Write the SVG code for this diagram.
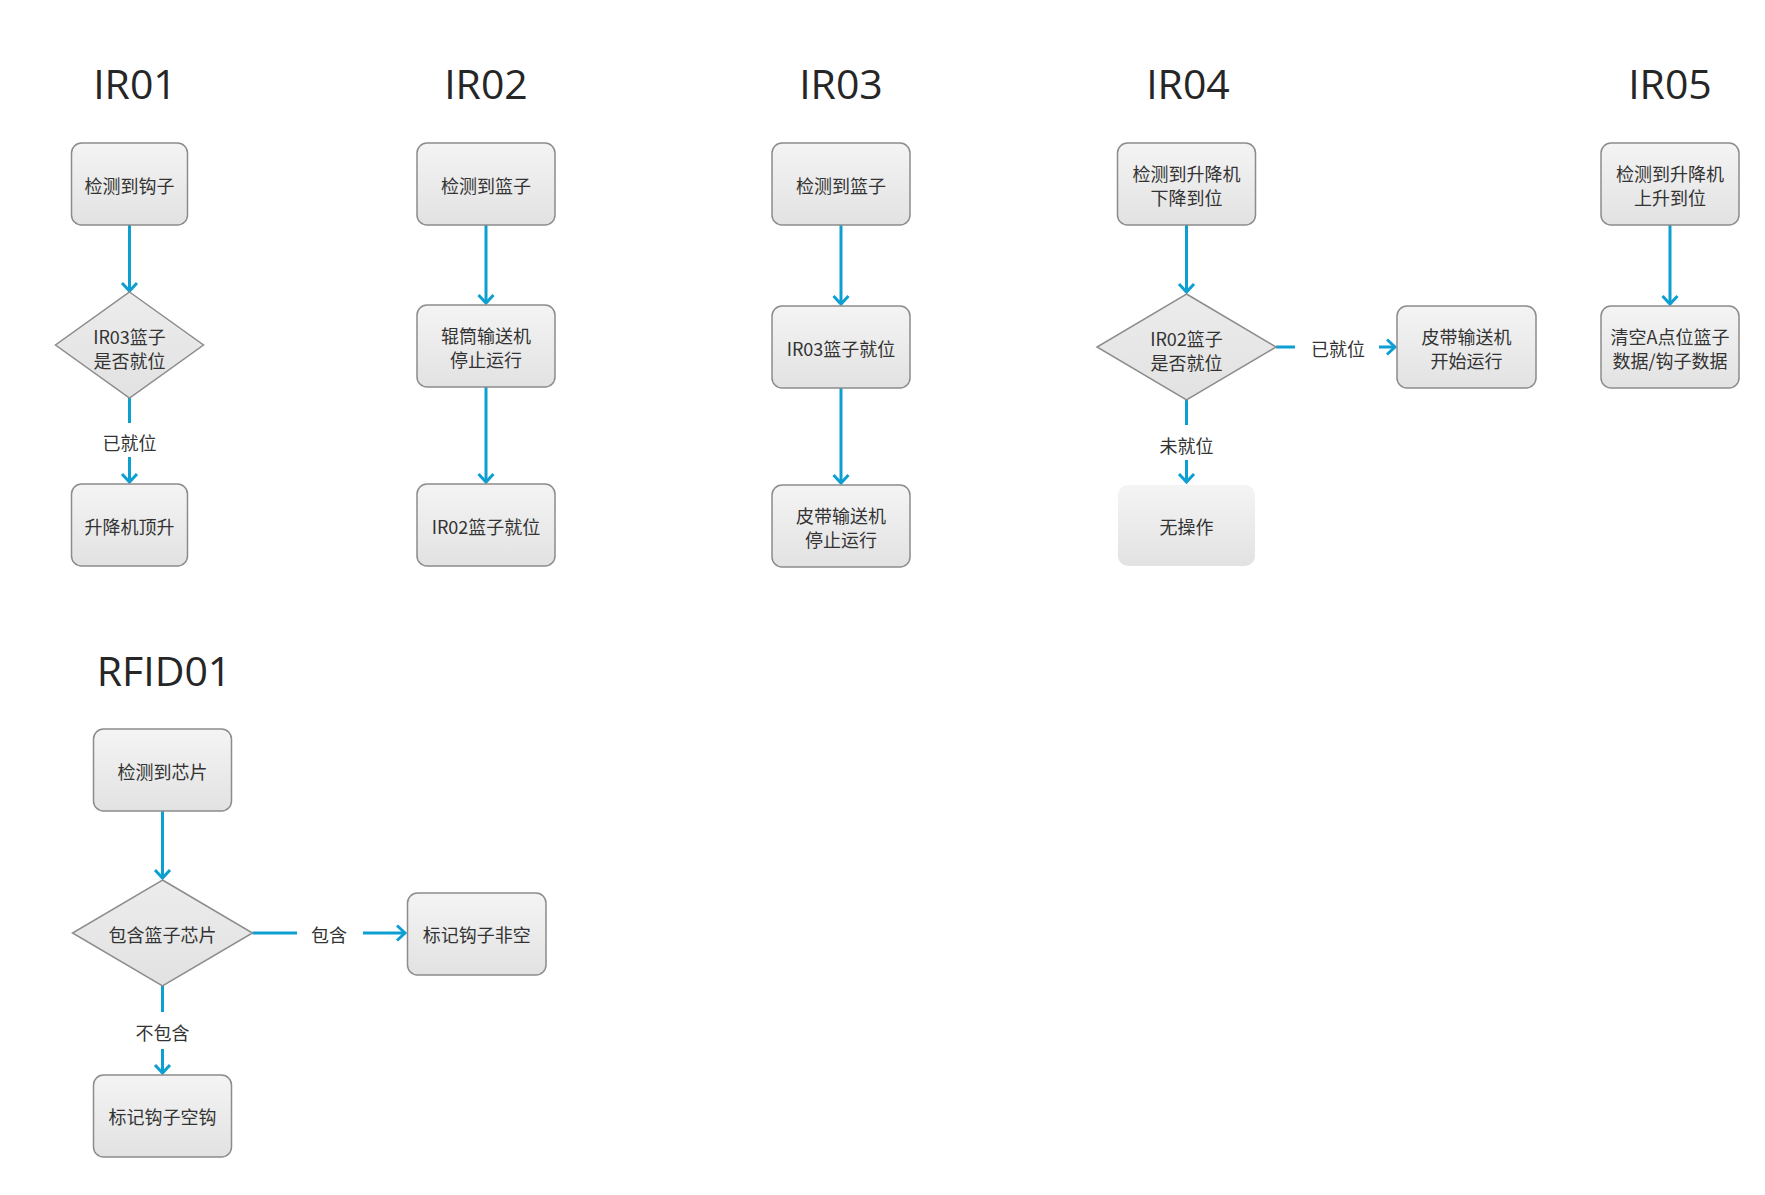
<svg xmlns="http://www.w3.org/2000/svg" width="1765" height="1195" viewBox="0 0 1765 1195">
<defs>
<linearGradient id="g" x1="0" y1="0" x2="0" y2="1"><stop offset="0" stop-color="#f4f4f4"/><stop offset="1" stop-color="#e2e2e2"/></linearGradient>
<linearGradient id="gd" x1="0" y1="0" x2="0" y2="1"><stop offset="0" stop-color="#ececec"/><stop offset="1" stop-color="#e2e2e2"/></linearGradient>
<marker id="arr" markerUnits="userSpaceOnUse" viewBox="-12 -10 14 20" refX="0" refY="0" markerWidth="14" markerHeight="20" orient="auto" overflow="visible">
<path d="M-8,-7.5 L0,0 L-8,7.5" fill="none" stroke="#0e9fd2" stroke-width="3"/>
</marker>
<style>
.box{fill:url(#g);stroke:#8c8c8c;stroke-width:1.5}
.nb{fill:url(#g);stroke:none}
.dia{fill:url(#gd);stroke:#8c8c8c;stroke-width:1.5}
.t{font-family:"Noto Sans CJK SC","Noto Sans",sans-serif;font-size:18px;fill:#333;text-anchor:middle}
.h{font-family:"Open Sans","Noto Sans",sans-serif;font-size:41px;fill:#262626;text-anchor:middle}
.c{fill:none;stroke:#0e9fd2;stroke-width:3}
.a{marker-end:url(#arr)}
</style>
</defs>
<rect width="1765" height="1195" fill="#fff"/>
<g id="titles">
<text class="h" x="135" y="99">IR01</text>
<text class="h" x="486" y="99">IR02</text>
<text class="h" x="841" y="99">IR03</text>
<text class="h" x="1188" y="99">IR04</text>
<text class="h" x="1670" y="99">IR05</text>
<text class="h" x="164" y="686">RFID01</text>
</g>
<g id="connectors">
<path class="c a" d="M129.5,225 V291"/>
<path class="c" d="M129.5,398 V423"/>
<path class="c a" d="M129.5,457 V482"/>
<text class="t" x="129.5" y="450">已就位</text>
<path class="c a" d="M486,225 V303"/>
<path class="c a" d="M486,387 V482"/>
<path class="c a" d="M841,225 V304"/>
<path class="c a" d="M841,388 V483"/>
<path class="c a" d="M1186.5,225 V292"/>
<path class="c" d="M1276,347 H1295"/>
<text class="t" x="1338" y="355.5">已就位</text>
<path class="c a" d="M1379,347 H1395"/>
<path class="c" d="M1186.5,400 V425"/>
<text class="t" x="1186.5" y="453">未就位</text>
<path class="c a" d="M1186.5,460 V482"/>
<path class="c a" d="M1670,225 V304"/>
<path class="c a" d="M162.5,811 V878"/>
<path class="c" d="M252.5,933 H297"/>
<text class="t" x="329" y="941.5">包含</text>
<path class="c a" d="M363,933 H405"/>
<path class="c" d="M162.5,986 V1012"/>
<text class="t" x="162.5" y="1040">不包含</text>
<path class="c a" d="M162.5,1049 V1073"/>
</g>
<g id="ir01-n1"><rect class="box" x="71.5" y="143" width="116" height="82" rx="10"/><text class="t" x="129.5" y="192.5">检测到钩子</text></g>
<g id="ir01-d"><polygon class="dia" points="129.5,292 203.5,345 129.5,398 55.5,345"/><text class="t" x="129.5" y="343.5">IR03篮子</text><text class="t" x="129.5" y="367.5">是否就位</text></g>
<g id="ir01-n3"><rect class="box" x="71.5" y="484" width="116" height="82" rx="10"/><text class="t" x="129.5" y="533.5">升降机顶升</text></g>
<g id="ir02-n1"><rect class="box" x="417" y="143" width="138" height="82" rx="10"/><text class="t" x="486" y="192.5">检测到篮子</text></g>
<g id="ir02-n2"><rect class="box" x="417" y="305" width="138" height="82" rx="10"/><text class="t" x="486" y="343">辊筒输送机</text><text class="t" x="486" y="367">停止运行</text></g>
<g id="ir02-n3"><rect class="box" x="417" y="484" width="138" height="82" rx="10"/><text class="t" x="486" y="533.5">IR02篮子就位</text></g>
<g id="ir03-n1"><rect class="box" x="772" y="143" width="138" height="82" rx="10"/><text class="t" x="841" y="192.5">检测到篮子</text></g>
<g id="ir03-n2"><rect class="box" x="772" y="306" width="138" height="82" rx="10"/><text class="t" x="841" y="355.5">IR03篮子就位</text></g>
<g id="ir03-n3"><rect class="box" x="772" y="485" width="138" height="82" rx="10"/><text class="t" x="841" y="523">皮带输送机</text><text class="t" x="841" y="547">停止运行</text></g>
<g id="ir04-n1"><rect class="box" x="1117.5" y="143" width="138" height="82" rx="10"/><text class="t" x="1186.5" y="181">检测到升降机</text><text class="t" x="1186.5" y="205">下降到位</text></g>
<g id="ir04-d"><polygon class="dia" points="1186.5,294 1276,347 1186.5,400 1097,347"/><text class="t" x="1186.5" y="345.5">IR02篮子</text><text class="t" x="1186.5" y="369.5">是否就位</text></g>
<g id="ir04-yes"><rect class="box" x="1397" y="306" width="139" height="82" rx="10"/><text class="t" x="1466.5" y="344">皮带输送机</text><text class="t" x="1466.5" y="368">开始运行</text></g>
<g id="ir04-no"><rect class="nb" x="1118" y="485" width="137" height="81" rx="10"/><text class="t" x="1186.5" y="534">无操作</text></g>
<g id="ir05-n1"><rect class="box" x="1601" y="143" width="138" height="82" rx="10"/><text class="t" x="1670" y="181">检测到升降机</text><text class="t" x="1670" y="205">上升到位</text></g>
<g id="ir05-n2"><rect class="box" x="1601" y="306" width="138" height="82" rx="10"/><text class="t" x="1670" y="344">清空A点位篮子</text><text class="t" x="1670" y="368">数据/钩子数据</text></g>
<g id="rfid-n1"><rect class="box" x="93.5" y="729" width="138" height="82" rx="10"/><text class="t" x="162.5" y="778.5">检测到芯片</text></g>
<g id="rfid-d"><polygon class="dia" points="162.5,880 252.5,933 162.5,986 72.5,933"/><text class="t" x="162.5" y="941.5">包含篮子芯片</text></g>
<g id="rfid-yes"><rect class="box" x="407.5" y="893" width="138.5" height="82" rx="10"/><text class="t" x="476.75" y="942">标记钩子非空</text></g>
<g id="rfid-no"><rect class="box" x="93.5" y="1075" width="138" height="82" rx="10"/><text class="t" x="162.5" y="1124">标记钩子空钩</text></g>
</svg>
